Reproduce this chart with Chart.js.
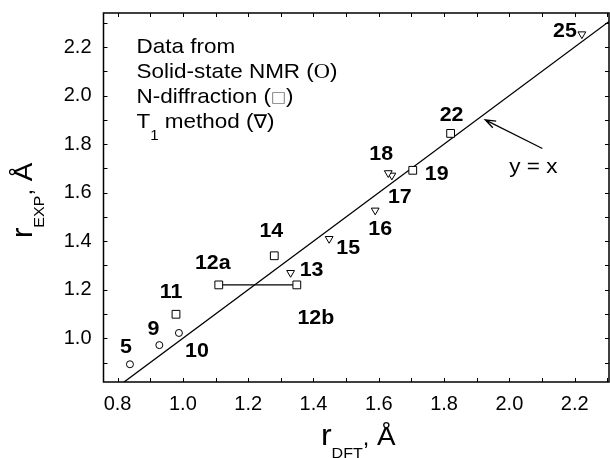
<!DOCTYPE html>
<html>
<head>
<meta charset="utf-8">
<script src="https://cdn.jsdelivr.net/npm/chart.js@4/dist/chart.umd.min.js"></script>
<style>
body{margin:0;background:#fff}
canvas{display:block}
</style>
</head>
<body>
<canvas id="chart" width="610" height="458"></canvas>
<script>

// solid-state NMR (circles)
const circleNames=["5","9","10"]
const circleX=[0.838,0.928,0.988]
const circleY=[0.893,0.972,1.022]

// N-diffraction (squares)
const squareNames=["11","14","19","22"]
const squareX=[0.979,1.28,1.704,1.82]
const squareY=[1.099,1.34,1.692,1.844]

// 12a / 12b, joined by a line
const pairNames=["12a","12b"]
const pairX=[1.11,1.349]
const pairY=[1.22,1.22]

// T1 method (triangles)
const triNames=["13","15","16","17","18","25"]
const triX=[1.33,1.448,1.589,1.64,1.629,2.222]
const triY=[1.27,1.41,1.527,1.671,1.681,2.253]

// y = x reference line and its arrow
const diagX=[0.7,2.4]
const arrowFrom=[2.101,1.782]
const arrowTo=[1.926,1.9]

const xRange=[0.757,2.305]
const yRange=[0.82,2.34]

// label offsets from the marker, px
const nudge={
"5":[-4,-17],"9":[-6,-16],"10":[18,19],"11":[-5,-22],
"12a":[-6,-21],"12b":[19,34],"14":[-3,-24],"13":[21,-2],
"15":[19,10],"16":[5,19],"17":[8,22],"18":[-7,-18],
"19":[24,4],"22":[1,-18],"25":[-17,-3]
}

const SANS="'Liberation Sans', Arial, sans-serif"
const STRETCH=1.07

function pts(xs,ys){
return xs.map((v,i)=>({x:v,y:ys[i]}))
}

function runsWidth(ctx,parts){
let w=0
parts.forEach(p=>{
ctx.font=p.f
w+=ctx.measureText(p.t).width*STRETCH
})
return w
}

function runs(ctx,parts,x,y){
let cx=x
parts.forEach(p=>{
ctx.font=p.f
ctx.save()
ctx.fillStyle=p.c||"#000"
ctx.textAlign="left"
ctx.textBaseline="alphabetic"
ctx.translate(cx,y+(p.dy||0))
ctx.scale(STRETCH,1)
ctx.fillText(p.t,0,0)
ctx.restore()
cx+=ctx.measureText(p.t).width*STRETCH
})
}

function label(ctx,s,x,y){
ctx.save()
ctx.font="bold 20px "+SANS
ctx.fillStyle="#000"
ctx.textAlign="center"
ctx.textBaseline="middle"
ctx.translate(x,y)
ctx.scale(STRETCH,1)
ctx.fillText(s,0,0)
ctx.restore()
}

const extras={
id:"extras",
afterDatasetsDraw(chart){

const ctx=chart.ctx
const a=chart.chartArea
const xs=chart.scales.x
const ys=chart.scales.y

ctx.save()
ctx.strokeStyle="#000"
ctx.lineWidth=1

// inward ticks on all four sides
xs.ticks.forEach(t=>{
const px=Math.round(xs.getPixelForValue(t.value))+0.5
ctx.beginPath()
ctx.moveTo(px,a.bottom);ctx.lineTo(px,a.bottom-4)
ctx.moveTo(px,a.top);ctx.lineTo(px,a.top+4)
ctx.stroke()
})
ys.ticks.forEach(t=>{
const py=Math.round(ys.getPixelForValue(t.value))+0.5
ctx.beginPath()
ctx.moveTo(a.left,py);ctx.lineTo(a.left+4,py)
ctx.moveTo(a.right,py);ctx.lineTo(a.right-4,py)
ctx.stroke()
})

ctx.lineWidth=1.5
ctx.strokeRect(a.left,a.top,a.right-a.left,a.bottom-a.top)

// point labels
const groups=[[circleNames,circleX,circleY],[squareNames,squareX,squareY],[pairNames,pairX,pairY],[triNames,triX,triY]]
groups.forEach(g=>{
g[0].forEach((n,i)=>{
const px=xs.getPixelForValue(g[1][i])
const py=ys.getPixelForValue(g[2][i])
const o=nudge[n]||[0,-16]
label(ctx,n,px+o[0],py+o[1])
})
})

// arrow to the y = x line
const tx=xs.getPixelForValue(arrowFrom[0])
const ty=ys.getPixelForValue(arrowFrom[1])
const hx=xs.getPixelForValue(arrowTo[0])
const hy=ys.getPixelForValue(arrowTo[1])
const ang=Math.atan2(ty-hy,tx-hx)
ctx.lineWidth=1.3
ctx.beginPath()
ctx.moveTo(tx,ty);ctx.lineTo(hx,hy)
ctx.moveTo(hx+11*Math.cos(ang+0.35),hy+11*Math.sin(ang+0.35))
ctx.lineTo(hx,hy)
ctx.lineTo(hx+11*Math.cos(ang-0.35),hy+11*Math.sin(ang-0.35))
ctx.stroke()

const yxParts=[{t:"y = x",f:"21px "+SANS}]
runs(ctx,yxParts,tx-9-runsWidth(ctx,yxParts)/2,ty+25)

// legend text block
const f="21px "+SANS
const left=a.left+33
runs(ctx,[{t:"Data from",f:f}],left,52.5)
runs(ctx,[{t:"Solid-state NMR (",f:f},{t:"O",f:"21px 'Liberation Serif', serif"},{t:")",f:f}],left,77.5)
runs(ctx,[{t:"N-diffraction (",f:f},{t:"\u25A1",f:"15px 'DejaVu Sans'",c:"#777",dy:-1},{t:")",f:f}],left,102.5)
runs(ctx,[{t:"T",f:f},{t:"1",f:"14px "+SANS,dy:12},{t:" method (",f:f},{t:"\u2207",f:"19px 'DejaVu Sans'"},{t:")",f:f}],left,127.5)

// axis titles
const xt=[{t:"r",f:"30px "+SANS},{t:"DFT",f:"15px "+SANS,dy:13},{t:",",f:"22px "+SANS},{t:" \u00C5",f:"26px "+SANS}]
const cx=(a.left+a.right)/2+2
runs(ctx,xt,cx-runsWidth(ctx,xt)/2,445)

const yt=[{t:"r",f:"30px "+SANS},{t:"EXP",f:"15px "+SANS,dy:12},{t:",",f:"22px "+SANS},{t:" \u00C5",f:"26px "+SANS}]
const cy=(a.top+a.bottom)/2+3
ctx.save()
ctx.translate(32,cy+runsWidth(ctx,yt)/2)
ctx.rotate(-Math.PI/2)
runs(ctx,yt,0,0)
ctx.restore()

ctx.restore()
}
}

const tickFont={family:SANS,size:20}
const evenTenth=v=>Math.round(v*10)%2?"":v.toFixed(1)

new Chart(document.getElementById("chart"),{
type:"scatter",
data:{datasets:[
{data:pts(circleX,circleY),pointStyle:"circle",pointRadius:3.5,pointBorderColor:"#000",pointBackgroundColor:"#fff",pointBorderWidth:1,order:1},
{data:pts(squareX,squareY),pointStyle:"rect",pointRadius:5.5,pointBorderColor:"#000",pointBackgroundColor:"#fff",pointBorderWidth:1,order:1},
{data:pts(pairX,pairY),showLine:true,borderColor:"#000",borderWidth:1.2,pointStyle:"rect",pointRadius:5.5,pointBorderColor:"#000",pointBackgroundColor:"#fff",pointBorderWidth:1,order:2},
{data:pts(triX,triY),pointStyle:"triangle",rotation:180,pointRadius:4.5,pointBorderColor:"#000",pointBackgroundColor:"#fff",pointBorderWidth:1,order:1},
{data:pts(diagX,diagX),showLine:true,borderColor:"#000",borderWidth:1.3,pointRadius:0,order:10}
]},
options:{
responsive:false,
animation:false,
devicePixelRatio:1,
layout:{autoPadding:false,padding:{top:13,right:1,left:0,bottom:0}},
plugins:{legend:{display:false},tooltip:{enabled:false}},
scales:{
x:{
type:"linear",min:xRange[0],max:xRange[1],
grid:{display:false,drawTicks:false},border:{display:false},
ticks:{stepSize:0.1,includeBounds:false,autoSkip:false,maxRotation:0,padding:10,color:"#000",font:tickFont,callback:evenTenth},
afterFit:s=>{s.height=76;s.paddingLeft=0;s.paddingRight=0}
},
y:{
type:"linear",min:yRange[0],max:yRange[1],
grid:{display:false,drawTicks:false},border:{display:false},
ticks:{stepSize:0.1,includeBounds:false,autoSkip:false,padding:12,color:"#000",font:tickFont,callback:evenTenth},
afterFit:s=>{s.width=103.5;s.paddingTop=0;s.paddingBottom=0}
}
}
},
plugins:[extras]
})

</script>
</body>
</html>
